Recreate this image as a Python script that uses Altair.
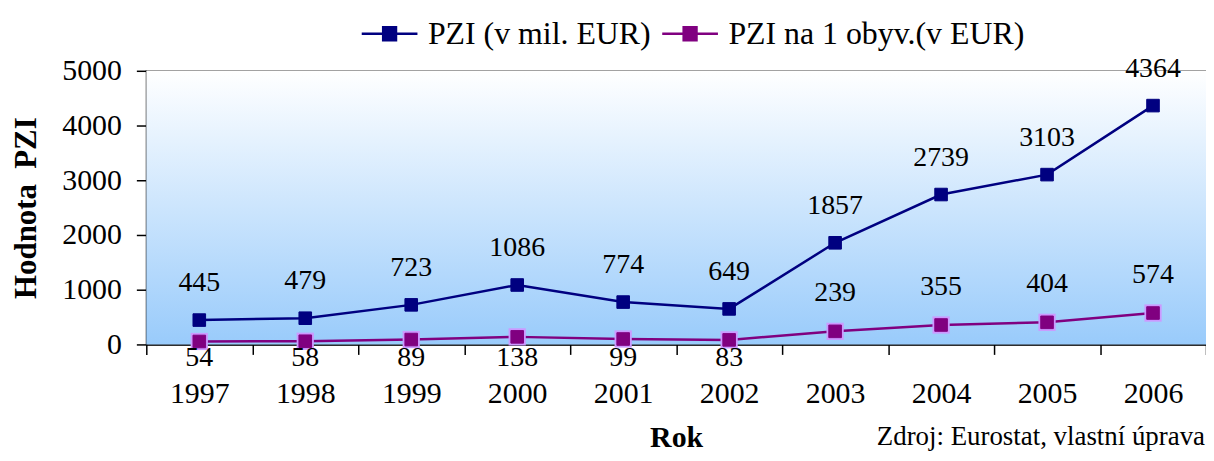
import altair as alt
import pandas as pd

# ---- data ----
years = [1997, 1998, 1999, 2000, 2001, 2002, 2003, 2004, 2005, 2006]
pzi_mil_eur = [445, 479, 723, 1086, 774, 649, 1857, 2739, 3103, 4364]
pzi_per_capita = [54, 58, 89, 138, 99, 83, 239, 355, 404, 574]
series_names = ["PZI (v mil. EUR)", "PZI na 1 obyv.(v EUR)"]
series_colors = ["#000080", "#800080"]
y_ticks = [0, 1000, 2000, 3000, 4000, 5000]
source_note = "Zdroj: Eurostat, vlastní úprava"

df = pd.DataFrame({
    "Rok": years + years,
    "Hodnota": pzi_mil_eur + pzi_per_capita,
    "Serie": [series_names[0]] * len(years) + [series_names[1]] * len(years),
})

W, H = 1065, 275
FONT = "Liberation Serif"

LEGEND_PATH = "M-1,0L1,0M-0.23,-0.23L0.23,-0.23L0.23,0.23L-0.23,0.23Z"

x_enc = alt.X(
    "Rok:O",
    scale=alt.Scale(type="band", paddingInner=0, paddingOuter=0),
    axis=alt.Axis(
        title="Rok", labelAngle=0, tickBand="extent", grid=False,
        labelFontSize=30, labelPadding=24, labelColor="black",
        titleFontSize=30, titleFontWeight="bold", titleBaseline="alphabetic",
        titleY=103, titleColor="black",
    ),
)
y_enc = alt.Y(
    "Hodnota:Q",
    scale=alt.Scale(domain=[0, 5000], nice=False),
    axis=alt.Axis(
        title="Hodnota\u00a0 PZI", values=y_ticks, grid=True, format="d",
        labelFontSize=30, labelPadding=15, labelColor="black",
        titleFontSize=31, titleFontWeight="bold", titleBaseline="middle",
        titleX=-120, titleY=H / 2, titleColor="black",
    ),
)
color_scale = alt.Scale(domain=series_names, range=series_colors)

legend = alt.Legend(
    title=None, orient="none", direction="horizontal",
    legendX=215, legendY=-67,
    symbolType=LEGEND_PATH, symbolSize=3136, symbolStrokeWidth=2.5,
    labelFont=FONT, labelFontSize=32, labelColor="black",
    labelLimit=600, labelOffset=9, columnPadding=6,
)

base = alt.Chart(df)

bg = alt.Chart(alt.Data(values=[{"k": 1}])).mark_rect(
    fill=alt.LinearGradient(
        gradient="linear",
        stops=[alt.GradientStop(color="#FFFFFF", offset=0),
               alt.GradientStop(color="#99CBFB", offset=1)],
        x1=0, x2=0, y1=0, y2=1,
    )
).encode(x=alt.value(0), x2=alt.value(W), y=alt.value(0), y2=alt.value(H))

lines = base.mark_line(strokeWidth=2.5).encode(
    x=x_enc, y=y_enc,
    stroke=alt.Stroke("Serie:N", scale=color_scale, legend=legend),
)

halo = base.transform_filter(alt.datum.Serie == series_names[1]).mark_square(
    size=300, color="#CC99FF", opacity=1
).encode(x=x_enc, y=y_enc)

squares = base.mark_square(size=160, opacity=1, strokeWidth=1).encode(
    x=x_enc, y=y_enc,
    fill=alt.Fill("Serie:N", scale=color_scale, legend=legend),
    stroke=alt.Stroke("Serie:N", scale=color_scale, legend=legend),
)

labels_blue = base.transform_filter(alt.datum.Serie == series_names[0]).mark_text(
    dy=-37, fontSize=28, font=FONT, color="black"
).encode(x=x_enc, y=y_enc, text="Hodnota:Q")

# Excel pushed the small early per-capita labels just below the zero line
labels_purple_low = base.transform_filter(
    (alt.datum.Serie == series_names[1]) & (alt.datum.Rok <= 2002)
).mark_text(dy=14, fontSize=28, font=FONT, color="black").encode(
    x=x_enc, y=alt.datum(0), text="Hodnota:Q")

labels_purple_high = base.transform_filter(
    (alt.datum.Serie == series_names[1]) & (alt.datum.Rok > 2002)
).mark_text(dy=-38, fontSize=28, font=FONT, color="black").encode(
    x=x_enc, y=y_enc, text="Hodnota:Q")

note = alt.Chart(alt.Data(values=[{"t": source_note}])).mark_text(
    align="right", baseline="alphabetic", font=FONT, fontSize=27, color="black"
).encode(text="t:N", x=alt.value(W - 1), y=alt.value(H + 101))

chart = alt.layer(
    bg, lines, halo, squares, labels_blue, labels_purple_low, labels_purple_high, note
).properties(
    width=W, height=H,
    padding={"left": 139, "top": 62, "right": 0, "bottom": 108},
    autosize=alt.AutoSizeParams(type="none"),
).configure(
    font=FONT,
).configure_view(
    stroke="#808080", strokeWidth=1.5,
).configure_axis(
    domainColor="black", domainWidth=1.5, tickColor="black", tickWidth=1.5,
    tickSize=10, gridColor="#8c8c8c", gridWidth=1.2,
    labelFont=FONT, titleFont=FONT,
)

chart.save("out.html", embed_options={"renderer": "svg", "actions": False})
